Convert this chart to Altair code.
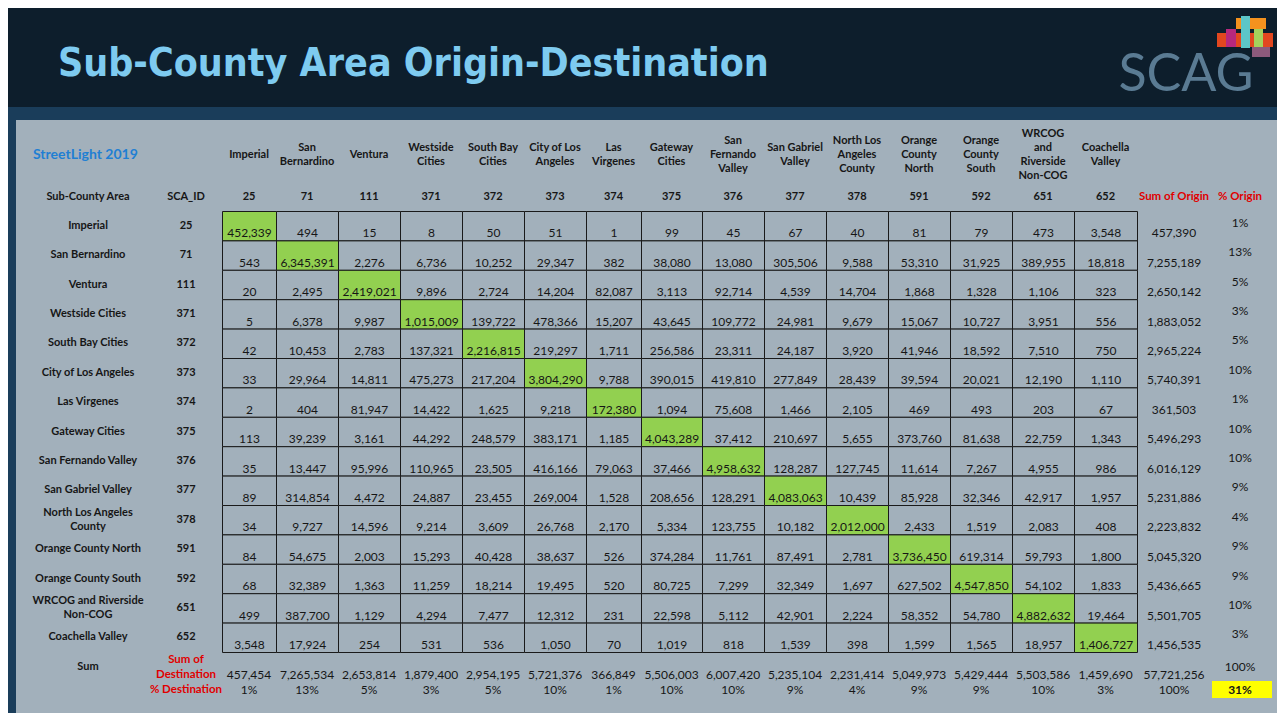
import altair as alt
import pandas as pd

# ---------------- data ----------------
AREAS = ["Imperial", "San Bernardino", "Ventura", "Westside Cities", "South Bay Cities",
         "City of Los Angeles", "Las Virgenes", "Gateway Cities", "San Fernando Valley",
         "San Gabriel Valley", "North Los Angeles County", "Orange County North",
         "Orange County South", "WRCOG and Riverside Non-COG", "Coachella Valley"]
COL_HEADERS = ["Imperial", "San\nBernardino", "Ventura", "Westside\nCities", "South Bay\nCities",
               "City of Los\nAngeles", "Las\nVirgenes", "Gateway\nCities", "San\nFernando\nValley",
               "San Gabriel\nValley", "North Los\nAngeles\nCounty", "Orange\nCounty\nNorth",
               "Orange\nCounty\nSouth", "WRCOG\nand\nRiverside\nNon-COG", "Coachella\nValley"]
ROW_LABELS = ["Imperial", "San Bernardino", "Ventura", "Westside Cities", "South Bay Cities",
              "City of Los Angeles", "Las Virgenes", "Gateway Cities", "San Fernando Valley",
              "San Gabriel Valley", "North Los Angeles\nCounty", "Orange County North",
              "Orange County South", "WRCOG and Riverside\nNon-COG", "Coachella Valley"]
SCA_IDS = [25, 71, 111, 371, 372, 373, 374, 375, 376, 377, 378, 591, 592, 651, 652]

# origin rows (trips from origin to each destination)
IMPERIAL = [452339, 494, 15, 8, 50, 51, 1, 99, 45, 67, 40, 81, 79, 473, 3548]
SAN_BERNARDINO = [543, 6345391, 2276, 6736, 10252, 29347, 382, 38080, 13080, 305506, 9588, 53310, 31925, 389955, 18818]
VENTURA = [20, 2495, 2419021, 9896, 2724, 14204, 82087, 3113, 92714, 4539, 14704, 1868, 1328, 1106, 323]
WESTSIDE = [5, 6378, 9987, 1015009, 139722, 478366, 15207, 43645, 109772, 24981, 9679, 15067, 10727, 3951, 556]
SOUTH_BAY = [42, 10453, 2783, 137321, 2216815, 219297, 1711, 256586, 23311, 24187, 3920, 41946, 18592, 7510, 750]
CITY_LA = [33, 29964, 14811, 475273, 217204, 3804290, 9788, 390015, 419810, 277849, 28439, 39594, 20021, 12190, 1110]
LAS_VIRGENES = [2, 404, 81947, 14422, 1625, 9218, 172380, 1094, 75608, 1466, 2105, 469, 493, 203, 67]
GATEWAY = [113, 39239, 3161, 44292, 248579, 383171, 1185, 4043289, 37412, 210697, 5655, 373760, 81638, 22759, 1343]
SAN_FERNANDO = [35, 13447, 95996, 110965, 23505, 416166, 79063, 37466, 4958632, 128287, 127745, 11614, 7267, 4955, 986]
SAN_GABRIEL = [89, 314854, 4472, 24887, 23455, 269004, 1528, 208656, 128291, 4083063, 10439, 85928, 32346, 42917, 1957]
NORTH_LA = [34, 9727, 14596, 9214, 3609, 26768, 2170, 5334, 123755, 10182, 2012000, 2433, 1519, 2083, 408]
ORANGE_NORTH = [84, 54675, 2003, 15293, 40428, 38637, 526, 374284, 11761, 87491, 2781, 3736450, 619314, 59793, 1800]
ORANGE_SOUTH = [68, 32389, 1363, 11259, 18214, 19495, 520, 80725, 7299, 32349, 1697, 627502, 4547850, 54102, 1833]
WRCOG = [499, 387700, 1129, 4294, 7477, 12312, 231, 22598, 5112, 42901, 2224, 58352, 54780, 4882632, 19464]
COACHELLA = [3548, 17924, 254, 531, 536, 1050, 70, 1019, 818, 1539, 398, 1599, 1565, 18957, 1406727]

SUM_ORIGIN = [457390, 7255189, 2650142, 1883052, 2965224, 5740391, 361503, 5496293, 6016129,
              5231886, 2223832, 5045320, 5436665, 5501705, 1456535]
PCT_ORIGIN = [1, 13, 5, 3, 5, 10, 1, 10, 10, 9, 4, 9, 9, 10, 3]
SUM_DEST = [457454, 7265534, 2653814, 1879400, 2954195, 5721376, 366849, 5506003, 6007420,
            5235104, 2231414, 5049973, 5429444, 5503586, 1459690]
PCT_DEST = [1, 13, 5, 3, 5, 10, 1, 10, 10, 9, 4, 9, 9, 10, 3]
TOTAL_TRIPS = 57721256
TOTAL_PCT_DEST = 100
TOTAL_PCT_ORIGIN = 100
INTRA_SHARE = 31

FLOWS = [IMPERIAL, SAN_BERNARDINO, VENTURA, WESTSIDE, SOUTH_BAY, CITY_LA, LAS_VIRGENES, GATEWAY,
         SAN_FERNANDO, SAN_GABRIEL, NORTH_LA, ORANGE_NORTH, ORANGE_SOUTH, WRCOG, COACHELLA]

# ---------------- layout (reference pixel coordinates) ----------------
W, H = 1269, 705
OFF = 8
COL_EDGES = [222, 276, 338, 400, 462, 524, 586, 641, 702, 764, 826, 888, 950, 1012, 1074, 1137]
ROW_TOP, ROW_H = 211, 29.4
NAME_X, ID_X, SUMO_X, PCTO_X = 88, 186, 1174, 1240
HEADER_Y, IDROW_Y = 154.5, 197
SUMD_Y, PCTD_Y, SUMLABEL_Y = 675, 690, 667
LH = 14

BORDER = "#1a3d5a"
BAND = "#0d1e2c"
PANEL = "#a2b0bb"
GREEN = "#92d050"
RED = "#e00000"
INK = "#161616"
FONT = "Lato"


def px(v):
    return v - OFF


def first_line_y(center, text, lh):
    """y of the first line so that a multi-line block is centred on `center`."""
    n = text.count("\n") + 1
    return center - (n - 1) * lh / 2


XS = alt.Scale(domain=[0, W], range=[0, W], nice=False, zero=False)
YS = alt.Scale(domain=[0, H], range=[0, H], nice=False, zero=False)


def pos(xf="x", yf="y"):
    return dict(x=alt.X(f"{xf}:Q", scale=XS, axis=None), y=alt.Y(f"{yf}:Q", scale=YS, axis=None))


def rect_layer(df, **kw):
    return alt.Chart(df).mark_rect(**kw).encode(
        x=alt.X("x0:Q", scale=XS, axis=None), x2="x1",
        y=alt.Y("y0:Q", scale=YS, axis=None), y2="y1",
        fill=alt.Fill("c:N", scale=None),
    )


def text_layer(df, fmt=None, numeric=False, **kw):
    base = dict(font=FONT, lineBreak="\n", color=INK, fontSize=11)
    base.update(kw)
    if numeric:
        t = alt.Text("t:Q", format=fmt) if fmt else alt.Text("t:Q")
    else:
        t = alt.Text("t:N")
    return alt.Chart(df).mark_text(**base).encode(text=t, **pos())


# ---------------- decoration ----------------
deco = pd.DataFrame([
    dict(x0=0, x1=W, y0=0, y1=px(107), c=BAND),
    dict(x0=px(16), x1=W, y0=px(120), y1=H, c=PANEL),
    dict(x0=px(1212), x1=px(1272), y0=px(681), y1=px(698), c="#ffff00"),
])
logo = pd.DataFrame([
    dict(x0=px(1236), x1=px(1266), y0=px(18), y1=px(29), c="#f5921e"),
    dict(x0=px(1217), x1=px(1273), y0=px(33), y1=px(47), c="#e2471f"),
    dict(x0=px(1241), x1=px(1250), y0=px(16), y1=px(48), c="#5cc6c8"),
    dict(x0=px(1226), x1=px(1236), y0=px(29), y1=px(47), c="#b7287e"),
    dict(x0=px(1254), x1=px(1263), y0=px(29), y1=px(47), c="#a5d25c"),
    dict(x0=px(1252), x1=px(1270), y0=px(47), y1=px(57), c="#8c5a7c"),
])

# ---------------- matrix cells ----------------
cell_rows = []
for i, row in enumerate(FLOWS):
    for j, v in enumerate(row):
        x0, x1 = px(COL_EDGES[j]) + 0.5, px(COL_EDGES[j + 1]) + 0.5
        y0, y1 = px(ROW_TOP + i * ROW_H) + 0.5, px(ROW_TOP + (i + 1) * ROW_H) + 0.5
        cell_rows.append(dict(x0=x0, x1=x1, y0=y0, y1=y1, x=(x0 + x1) / 2, y=y1 - 3.5,
                              t=v, c=GREEN if i == j else PANEL))
cells = pd.DataFrame(cell_rows)

col_centers = [px((COL_EDGES[j] + COL_EDGES[j + 1]) / 2) for j in range(len(COL_EDGES) - 1)]
row_centers = [px(ROW_TOP + (i + 0.5) * ROW_H) for i in range(len(AREAS))]
row_bottoms = [px(ROW_TOP + (i + 1) * ROW_H) for i in range(len(AREAS))]

headers = pd.DataFrame(dict(x=col_centers,
                            y=[first_line_y(px(HEADER_Y), h, LH) for h in COL_HEADERS],
                            t=COL_HEADERS))
id_row = pd.DataFrame(dict(x=col_centers + [px(NAME_X), px(ID_X)], y=px(IDROW_Y),
                           t=[str(s) for s in SCA_IDS] + ["Sub-County Area", "SCA_ID"]))
red_heads = pd.DataFrame(dict(x=[px(SUMO_X), px(PCTO_X), px(ID_X), px(ID_X)],
                              y=[px(IDROW_Y), px(IDROW_Y),
                                 first_line_y(px(SUMLABEL_Y), "Sum of\nDestination", 15), px(PCTD_Y)],
                              t=["Sum of Origin", "% Origin", "Sum of\nDestination", "% Destination"]))
row_lab = pd.DataFrame(dict(x=px(NAME_X),
                            y=[first_line_y(c, t, LH) for c, t in zip(row_centers, ROW_LABELS)],
                            t=ROW_LABELS))
row_ids = pd.DataFrame(dict(x=px(ID_X), y=row_centers, t=[str(s) for s in SCA_IDS]))
sum_lab = pd.DataFrame(dict(x=[px(NAME_X)], y=[px(SUMLABEL_Y)], t=["Sum"]))

sum_origin = pd.DataFrame(dict(x=px(SUMO_X), y=[b - 3 for b in row_bottoms], t=SUM_ORIGIN))
pct_origin = pd.DataFrame(dict(x=px(PCTO_X), y=[c - 3 for c in row_centers],
                               t=[f"{p}%" for p in PCT_ORIGIN]))
sum_dest = pd.DataFrame(dict(x=col_centers + [px(SUMO_X)], y=px(SUMD_Y), t=SUM_DEST + [TOTAL_TRIPS]))
pct_dest = pd.DataFrame(dict(x=col_centers + [px(SUMO_X)], y=px(PCTD_Y),
                             t=[f"{p}%" for p in PCT_DEST + [TOTAL_PCT_DEST]]))
pct_tot = pd.DataFrame(dict(x=[px(PCTO_X)], y=[px(SUMLABEL_Y)], t=[f"{TOTAL_PCT_ORIGIN}%"]))
intra = pd.DataFrame(dict(x=[px(PCTO_X)], y=[px(PCTD_Y)], t=[f"{INTRA_SHARE}%"]))

title = pd.DataFrame(dict(x=[px(58)], y=[px(76)], t=["Sub-County Area Origin-Destination"]))
sub = pd.DataFrame(dict(x=[px(33)], y=[px(155)], t=["StreetLight 2019"]))
scag = pd.DataFrame(dict(x=[px(1186)], y=[px(91)], t=["SCAG"]))

layers = [
    rect_layer(deco),
    rect_layer(logo),
    rect_layer(cells, stroke="#1a1a1a", strokeWidth=1),
    text_layer(cells, fmt=",", numeric=True, fontSize=12, baseline="alphabetic"),
    text_layer(headers, fontWeight="bold", baseline="middle", lineHeight=LH),
    text_layer(id_row, fontWeight="bold", baseline="middle"),
    text_layer(red_heads, fontWeight="bold", baseline="middle", color=RED, lineHeight=15, fontSize=11.5),
    text_layer(row_lab, fontWeight="bold", baseline="middle", lineHeight=LH),
    text_layer(row_ids, fontWeight="bold", baseline="middle"),
    text_layer(sum_lab, fontWeight="bold", baseline="middle"),
    text_layer(sum_origin, fmt=",", numeric=True, fontSize=12, baseline="alphabetic"),
    text_layer(pct_origin, fontSize=12, baseline="middle"),
    text_layer(sum_dest, fmt=",", numeric=True, fontSize=12, baseline="middle"),
    text_layer(pct_dest, fontSize=12, baseline="middle"),
    text_layer(pct_tot, fontSize=12, baseline="middle"),
    text_layer(intra, fontSize=12, fontWeight="bold", baseline="middle"),
    text_layer(title, font="DejaVu Sans Condensed, DejaVu Sans, sans-serif",
               fontWeight="bold", fontSize=39, color="#7ecbf0", align="left", baseline="alphabetic"),
    text_layer(sub, fontWeight="bold", fontSize=14, color="#1f7fd3", align="left", baseline="middle"),
    text_layer(scag, fontWeight="normal", fontSize=52, color="#5a7b93", baseline="alphabetic"),
]

chart = alt.layer(*layers).properties(
    width=W, height=H, padding=0,
    autosize=alt.AutoSizeParams(type="none"),
    background=BORDER,
).configure_view(stroke=None)

chart.save("out.html", embed_options={"renderer": "svg", "actions": False})
